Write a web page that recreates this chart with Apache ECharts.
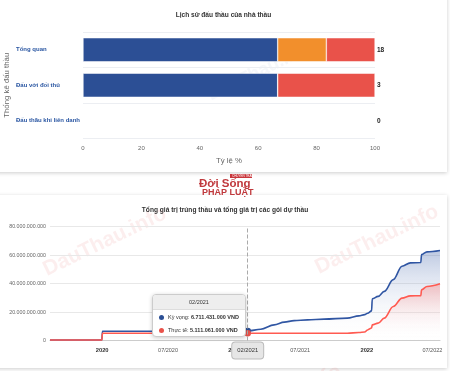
<!DOCTYPE html>
<html><head><meta charset="utf-8">
<script src="https://cdn.jsdelivr.net/npm/echarts@6/dist/echarts.min.js"></script>
<style>
html,body{margin:0;padding:0;background:#fff;width:450px;height:371px;overflow:hidden;font-family:"Liberation Sans",Arial,sans-serif;}
.card{position:absolute;background:#fff;box-shadow:0 1px 4px rgba(0,0,0,0.2);}
#c1{position:absolute;left:0;top:0;width:447px;height:172px;}
#c2{position:absolute;left:0;top:173px;width:450px;height:198px;}
</style></head><body>
<div class="card" style="left:-4px;top:-4px;width:451px;height:176px;"></div>
<div class="card" style="left:-4px;top:195px;width:451px;height:173px;"></div>
<div id="c1"></div><div id="c2"></div>
<script>
// ---- Chart 1 data ----
const barCategories = ['Tổng quan', 'Đấu với đối thủ', 'Đấu thầu khi liên danh'];
const winPct = [66.67, 66.67, 0];
const pendingPct = [16.67, 0, 0];
const losePct = [16.67, 33.33, 0];
const totals = [18, 3, 0];
const fullPct = [100, 100, 100];

// ---- Chart 2 data ----
const dates = ['2019-08-10','2019-12-31','2020-01-02','2020-07-01','2021-01-15','2021-02-06','2021-03-14','2021-04-20','2021-05-18','2021-06-14','2021-07-21','2021-09-05','2021-11-08','2021-12-10','2021-12-26','2022-01-03','2022-01-14','2022-01-16','2022-02-01','2022-02-18','2022-03-15','2022-04-08','2022-05-01','2022-05-30','2022-06-01','2022-06-16','2022-07-22'];
const expected = [400000000,400000000,6500000000,6500000000,6550000000,6711431000,7900000000,11000000000,12900000000,14000000000,14500000000,15000000000,15700000000,17300000000,18200000000,19200000000,20800000000,29300000000,31000000000,34500000000,42800000000,52200000000,54600000000,54800000000,60400000000,62300000000,63300000000];
const actual = [300000000,300000000,5111061000,5111061000,5111061000,5111061000,5111061000,5111061000,5111061000,5111061000,5111061000,5111061000,5111061000,5600000000,6000000000,7400000000,8800000000,11000000000,12200000000,15700000000,23900000000,29800000000,31400000000,31500000000,35700000000,38000000000,39900000000];
const tipIndex = 5;

const BLUE = '#2c4f95', ORANGE = '#f28f2c', RED = '#e9524a';
const fmt = v => String(Math.round(v)).replace(/\B(?=(\d{3})+(?!\d))/g, '.');
const pad = n => (n < 10 ? '0' : '') + n;
const mmyyyy = ts => { const d = new Date(ts); return pad(d.getMonth() + 1) + '/' + d.getFullYear(); };

// ---- Chart 1 ----
const c1 = echarts.init(document.getElementById('c1'));
const barBase = { type: 'bar', stack: 'all', barWidth: 24, barGap: '-100%' };
c1.setOption({
  animation: false,
  textStyle: { fontFamily: 'Liberation Sans, Arial, sans-serif' },
  title: { text: 'Lịch sử đấu thầu của nhà thầu', left: 'center', top: 7, textStyle: { fontSize: 6.6, fontWeight: 'bold', color: '#333' } },
  graphic: [{ type: 'text', left: 205, top: 38, rotation: 0.45, silent: true, style: { text: 'DauThau.info', fontSize: 18, fontWeight: 'bold', fill: 'rgba(160,175,205,0.10)' } }],
  grid: { left: 83, right: 72, top: 32, bottom: 33.5, outerBoundsMode: 'none', containLabel: false },
  xAxis: { type: 'value', min: 0, max: 100, interval: 20, name: 'Tỷ lệ %', nameLocation: 'middle', nameGap: 13,
    nameTextStyle: { fontSize: 7.8, color: '#666' }, axisLabel: { fontSize: 6, color: '#666', margin: 7 },
    splitLine: { show: false }, axisLine: { show: false }, axisTick: { show: false } },
  yAxis: { type: 'category', data: barCategories, inverse: true, name: 'Thống kê đấu thầu', nameLocation: 'middle', nameGap: 72, nameRotate: 90,
    nameMoveOverlap: false,
    nameTextStyle: { fontSize: 7.8, color: '#666' },
    axisLabel: { align: 'left', margin: 67, fontSize: 6, fontWeight: 'bold', color: '#2a56a2' },
    splitLine: { show: true, lineStyle: { color: '#eceef2' } }, axisLine: { show: false }, axisTick: { show: false } },
  series: [
    Object.assign({}, barBase, { name: 'Trúng thầu', data: winPct, itemStyle: { color: BLUE, borderColor: '#fff', borderWidth: 0.5 } }),
    Object.assign({}, barBase, { name: 'Chưa có kết quả', data: pendingPct, itemStyle: { color: ORANGE, borderColor: '#fff', borderWidth: 0.5 } }),
    Object.assign({}, barBase, { name: 'Trượt thầu', data: losePct, itemStyle: { color: RED, borderColor: '#fff', borderWidth: 0.5 } }),
    { type: 'bar', name: 'Tổng', data: fullPct, barWidth: 24, barGap: '-100%', silent: true, z: 1,
      itemStyle: { color: 'rgba(0,0,0,0)' },
      label: { show: true, position: 'right', distance: 2, fontSize: 6.5, fontWeight: 'bold', color: '#222', formatter: p => String(totals[p.dataIndex]) } }
  ]
});

// ---- Chart 2 ----
const c2 = echarts.init(document.getElementById('c2'));
const grad = (r, g, b, a) => new echarts.graphic.LinearGradient(0, 0, 0, 1, [
  { offset: 0, color: `rgba(${r},${g},${b},${a})` }, { offset: 1, color: `rgba(255,255,255,0)` }]);
const wm = (x, y) => ({ type: 'text', left: x, top: y, rotation: 0.45, silent: true, z: -1,
  style: { text: 'DauThau.info', fontSize: 21, fontWeight: 'bold', fill: 'rgba(225,90,90,0.10)' } });
c2.setOption({
  animation: false,
  textStyle: { fontFamily: 'Liberation Sans, Arial, sans-serif' },
  title: { text: 'Tổng giá trị trúng thầu và tổng giá trị các gói dự thầu', left: 'center', top: 29, textStyle: { fontSize: 6.6, fontWeight: 'bold', color: '#333' } },
  graphic: [
    wm(40, 30), wm(312, 28), wm(215, 188),
    { type: 'rect', left: 230, top: 1, shape: { width: 22, height: 4 }, style: { fill: '#c9353a' } },
    { type: 'text', left: 232, top: 1.5, style: { text: 'CHUYÊN TRANG', fontSize: 3, fill: '#fff' } },
    { type: 'text', left: 199, top: 5, style: { text: 'Đời Sống', fontSize: 11.5, fontWeight: 'bold', fontFamily: 'Liberation Sans Narrow, Liberation Sans, sans-serif', fill: '#c0393d' } },
    { type: 'text', left: 202, top: 15, style: { text: 'PHÁP LUẬT', fontSize: 9, fontWeight: 'bold', fontFamily: 'Liberation Sans Narrow, Liberation Sans, sans-serif', fill: '#c0393d' } }
  ],
  grid: { left: 50, right: 10, top: 53.7, bottom: 30.5, outerBoundsMode: 'none', containLabel: false },
  tooltip: {
    trigger: 'axis', alwaysShowContent: true, padding: 0, backgroundColor: '#fff', borderColor: '#ccc', borderWidth: 1, borderRadius: 4,
    extraCssText: 'box-shadow:0 1px 4px rgba(0,0,0,0.2);overflow:hidden;',
    position: () => [152, 121],
    axisPointer: { type: 'line', lineStyle: { type: 'dashed', color: '#aaa', width: 1 } },
    formatter: params => {
      let html = `<div style="background:#eee;border-bottom:1px solid #ddd;padding:4px 0 3px 0;text-align:center;font-size:5.5px;line-height:7px;color:#333">${mmyyyy(params[0].value[0])}</div>`;
      params.forEach(p => {
        html += `<div style="padding:3px 6px 2px 6px;font-size:5.5px;line-height:8px;color:#333;white-space:nowrap"><span style="display:inline-block;width:5px;height:5px;border-radius:50%;background:${p.color};margin-right:4px;vertical-align:-0.5px"></span>${p.seriesName}: <b>${fmt(p.value[1])} VND</b></div>`;
      });
      return html;
    }
  },
  xAxis: { type: 'time', min: 'dataMin', max: 'dataMax', splitNumber: 6,
    axisLine: { lineStyle: { color: '#ccc' } }, axisTick: { show: false }, splitLine: { show: false },
    axisLabel: { fontSize: 5.5, color: '#555', margin: 7, hideOverlap: false,
      formatter: v => { const d = new Date(v); const m = d.getMonth(); if (d.getDate() !== 1) return ''; return m === 0 ? '{b|' + d.getFullYear() + '}' : (m === 6 ? mmyyyy(v) : ''); },
      rich: { b: { fontWeight: 'bold', fontSize: 5.8, color: '#333' } } },
    axisPointer: { label: { show: true, formatter: p => mmyyyy(p.value), backgroundColor: '#e6e6e6', borderColor: '#bbb', borderWidth: 1, color: '#333', fontSize: 5.8, padding: [5, 5], margin: 2 } } },
  yAxis: { type: 'value', min: 0, max: 80000000000, interval: 20000000000,
    axisLabel: { fontSize: 5.3, color: '#666', margin: 4, formatter: v => fmt(v) },
    splitLine: { lineStyle: { color: '#e8e8e8' } }, axisLine: { show: false }, axisTick: { show: false } },
  series: [
    { name: 'Kỳ vọng', type: 'line', data: dates.map((d, i) => [d, expected[i]]), smooth: 0.35, smoothMonotone: 'x',
      showSymbol: false, symbol: 'circle', symbolSize: 6, lineStyle: { color: BLUE, width: 1.6 }, itemStyle: { color: BLUE },
      areaStyle: { color: grad(44, 79, 149, 0.45) } },
    { name: 'Thực tế', type: 'line', data: dates.map((d, i) => [d, actual[i]]), smooth: 0.35, smoothMonotone: 'x',
      showSymbol: false, symbol: 'circle', symbolSize: 6, lineStyle: { color: RED, width: 1.6 }, itemStyle: { color: RED },
      areaStyle: { color: grad(233, 82, 74, 0.45) } }
  ]
});
c2.dispatchAction({ type: 'showTip', seriesIndex: 0, dataIndex: tipIndex });
</script>
</body></html>
